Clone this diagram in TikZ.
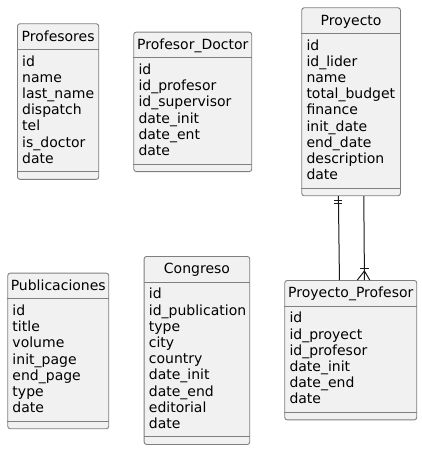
\documentclass[tikz,border=0pt]{standalone}
\usepackage{fontspec}
\setmainfont{DejaVu Sans}
\usepackage{xcolor}
\usepackage{tikz}
\usetikzlibrary{positioning}
\definecolor{tablefill}{HTML}{F1F1F1}
\definecolor{tableline}{HTML}{7F7F7F}
\definecolor{relline}{HTML}{181818}

\begin{document}
\begin{tikzpicture}[x=1pt, y=-1pt,
  table/.style={draw=tableline, fill=tablefill, line width=0.9pt, rounded corners=2.5pt, anchor=north west, inner sep=0pt},
  sep/.style={draw=tableline, line width=0.9pt},
  title/.style={anchor=base, inner sep=0pt, font=\fontsize{14}{16.2}\selectfont},
  attr/.style={anchor=base west, inner sep=0pt, font=\fontsize{14}{16.2}\selectfont},
  rel/.style={draw=relline, line width=1pt}]
  \useasboundingbox (0,0) rectangle (422,450);

  % Profesores
  \node[table, minimum width=81.3pt, minimum height=155.6pt] (profesores) at (17,23.3) {};
  \draw[sep] ([yshift=-26pt]profesores.north west) -- ([yshift=-26pt]profesores.north east);
  \draw[sep] ([yshift=8pt]profesores.south west) -- ([yshift=8pt]profesores.south east);
  \node[title] (profesores-t) at ([yshift=-17.7pt]profesores.north) {Profesores};
  \foreach \a [count=\i from 0] in {id, name, last\_name, dispatch, tel, is\_doctor, date}
    \node[attr] (profesores-\i) at ([xshift=5pt, yshift={-42.8pt-16.2pt*\i}]profesores.north west) {\a};

  % Profesor_Doctor
  \node[table, minimum width=118pt, minimum height=139.4pt] (profdoctor) at (133.3,31.7) {};
  \draw[sep] ([yshift=-26pt]profdoctor.north west) -- ([yshift=-26pt]profdoctor.north east);
  \draw[sep] ([yshift=8pt]profdoctor.south west) -- ([yshift=8pt]profdoctor.south east);
  \node[title] (profdoctor-t) at ([yshift=-17.7pt]profdoctor.north) {Profesor\_Doctor};
  \foreach \a [count=\i from 0] in {id, id\_profesor, id\_supervisor, date\_init, date\_ent, date}
    \node[attr] (profdoctor-\i) at ([xshift=5pt, yshift={-42.8pt-16.2pt*\i}]profdoctor.north west) {\a};

  % Proyecto
  \node[table, minimum width=98.7pt, minimum height=188pt] (proyecto) at (301.3,7.3) {};
  \draw[sep] ([yshift=-26pt]proyecto.north west) -- ([yshift=-26pt]proyecto.north east);
  \draw[sep] ([yshift=8pt]proyecto.south west) -- ([yshift=8pt]proyecto.south east);
  \node[title] (proyecto-t) at ([yshift=-17.7pt]proyecto.north) {Proyecto};
  \foreach \a [count=\i from 0] in {id, id\_lider, name, total\_budget, finance, init\_date, end\_date, description, date}
    \node[attr] (proyecto-\i) at ([xshift=5pt, yshift={-42.8pt-16.2pt*\i}]proyecto.north west) {\a};

  % Publicaciones
  \node[table, minimum width=101pt, minimum height=155.6pt] (publicaciones) at (7.3,272.7) {};
  \draw[sep] ([yshift=-26pt]publicaciones.north west) -- ([yshift=-26pt]publicaciones.north east);
  \draw[sep] ([yshift=8pt]publicaciones.south west) -- ([yshift=8pt]publicaciones.south east);
  \node[title] (publicaciones-t) at ([yshift=-17.7pt]publicaciones.north) {Publicaciones};
  \foreach \a [count=\i from 0] in {id, title, volume, init\_page, end\_page, type, date}
    \node[attr] (publicaciones-\i) at ([xshift=5pt, yshift={-42.8pt-16.2pt*\i}]publicaciones.north west) {\a};

  % Congreso
  \node[table, minimum width=105.6pt, minimum height=188pt] (congreso) at (143.7,256) {};
  \draw[sep] ([yshift=-26pt]congreso.north west) -- ([yshift=-26pt]congreso.north east);
  \draw[sep] ([yshift=8pt]congreso.south west) -- ([yshift=8pt]congreso.south east);
  \node[title] (congreso-t) at ([yshift=-17.7pt]congreso.north) {Congreso};
  \foreach \a [count=\i from 0] in {id, id\_publication, type, city, country, date\_init, date\_end, editorial, date}
    \node[attr] (congreso-\i) at ([xshift=5pt, yshift={-42.8pt-16.2pt*\i}]congreso.north west) {\a};

  % Proyecto_Profesor
  \node[table, minimum width=132pt, minimum height=139.4pt] (proyprof) at (284.3,280) {};
  \draw[sep] ([yshift=-26pt]proyprof.north west) -- ([yshift=-26pt]proyprof.north east);
  \draw[sep] ([yshift=8pt]proyprof.south west) -- ([yshift=8pt]proyprof.south east);
  \node[title] (proyprof-t) at ([yshift=-17.7pt]proyprof.north) {Proyecto\_Profesor};
  \foreach \a [count=\i from 0] in {id, id\_proyect, id\_profesor, date\_init, date\_end, date}
    \node[attr] (proyprof-\i) at ([xshift=5pt, yshift={-42.8pt-16.2pt*\i}]proyprof.north west) {\a};

  % Proyecto ||--|| Proyecto_Profesor
  \draw[rel] ([xshift=-12.7pt]proyecto.south) -- ([xshift=-11.3pt]proyprof.north);
  \draw[rel] ([xshift=-16.7pt, yshift=-4pt]proyecto.south) -- ++(8,0);
  \draw[rel] ([xshift=-16.7pt, yshift=-7.5pt]proyecto.south) -- ++(8,0);

  % Proyecto ||--|{ Proyecto_Profesor
  \draw[rel] ([xshift=12.7pt]proyecto.south) -- ([xshift=13.7pt]proyprof.north);
  \draw[rel] ([xshift=9.2pt, yshift=11.5pt]proyprof.north) -- ++(9,0);
  \draw[rel] ([xshift=6.6pt]proyprof.north) -- ([xshift=13.7pt, yshift=9pt]proyprof.north) -- ([xshift=19pt]proyprof.north);
\end{tikzpicture}
\end{document}
